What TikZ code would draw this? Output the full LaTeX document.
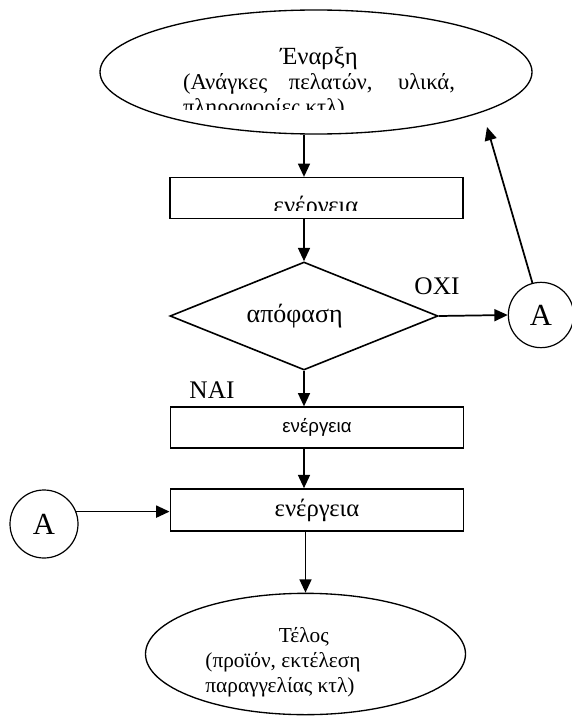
\documentclass[tikz,border=0pt]{standalone}
\usepackage{fontspec}
\setmainfont{Liberation Serif}
\setsansfont{Liberation Sans}
\usetikzlibrary{shapes.geometric,arrows.meta}

\tikzset{
    flow/.style={draw, line width=1.2pt, inner sep=0pt},
    endbox/.style={flow, ellipse, line width=1pt},
    actbox/.style={flow, rectangle, minimum width=220pt, minimum height=30.5pt},
    decbox/.style={flow, diamond, minimum width=201pt, minimum height=81pt, font=\fontsize{19.5}{22}\selectfont},
    conn/.style={draw, circle, line width=0.9pt, minimum size=49pt, inner sep=0pt, font=\fontsize{23}{25}\selectfont},
    arr/.style={line width=1.3pt, -{Triangle[length=10pt,width=9pt]}},
    txt/.style={font=\fontsize{16}{18.75}\selectfont, inner sep=0pt},
    yesno/.style={font=\fontsize{19}{21}\selectfont, inner sep=0pt}
}

\begin{document}
\begin{tikzpicture}[x=0.75pt, y=-0.75pt]

    \useasboundingbox (0,0) rectangle (571,717);

    % shapes
    \node (start) at (316,72) [endbox, minimum width=324pt, minimum height=93pt] {};
    \node (act1) at (316.5,198) [actbox] {};
    \node (dec) at (304,316) [decbox] {\hspace*{-14pt}απόφαση};
    \node (act2) at (317,427.5) [actbox, font=\sffamily\fontsize{14}{16}\selectfont] {ενέργεια};
    \node (act3) at (317,510) [actbox, minimum height=31.5pt, font=\fontsize{18.5}{20}\selectfont] {ενέργεια};
    \node (stop) at (305.5,654) [endbox, minimum width=240pt, minimum height=91pt] {};
    \node (conA1) at (541,315) [conn] {A};
    \node (conA2) at (44,524) [conn, minimum size=51pt] {A};

    % texts cut by their frames
    \begin{scope}
        \clip (0,0) rectangle (571,109);
        \node (startTxt) at (319,83) [txt, font=\fontsize{17}{18.75}\selectfont, align=left] {\makebox[204pt]{\fontsize{18.5}{18.75}\selectfont Έναρξη}\\\makebox[204pt][s]{(Ανάγκες πελατών, υλικά,}\\πληροφορίες κτλ)};
    \end{scope}
    \begin{scope}
        \clip (0,0) rectangle (571,210);
        \node (act1Txt) at (316,213.5) [anchor=base, inner sep=0pt, font=\fontsize{18.5}{20}\selectfont] {ενέργεια};
    \end{scope}
    \node (stopTxt) at (283,662) [txt, align=left] {\hspace*{55pt}Τέλος\\(προϊόν, εκτέλεση\\παραγγελίας κτλ)};

    % labels
    \node (yes) at (212,390) [yesno] {ΝΑΙ};
    \node (no) at (437,286) [yesno] {ΟΧΙ};

    % connectors
    \coordinate (back) at (487,127);
    \draw[arr] (start.south -| dec.north) -- (act1.north -| dec.north);
    \draw[arr] (act1.south -| dec.north) -- (dec.north);
    \draw[arr] (dec.south) -- (act2.north -| dec.south);
    \draw[arr] (act2.south -| dec.south) -- (act3.north -| dec.south);
    \draw[arr] (act3.south -| stop.north) -- (stop.north);
    \draw[arr] (dec.east) -- (conA1.west);
    \draw[arr] (conA1.105) -- (back);
    \draw[arr] (conA2.21) -- (conA2.21 -| act3.west);

\end{tikzpicture}
\end{document}
